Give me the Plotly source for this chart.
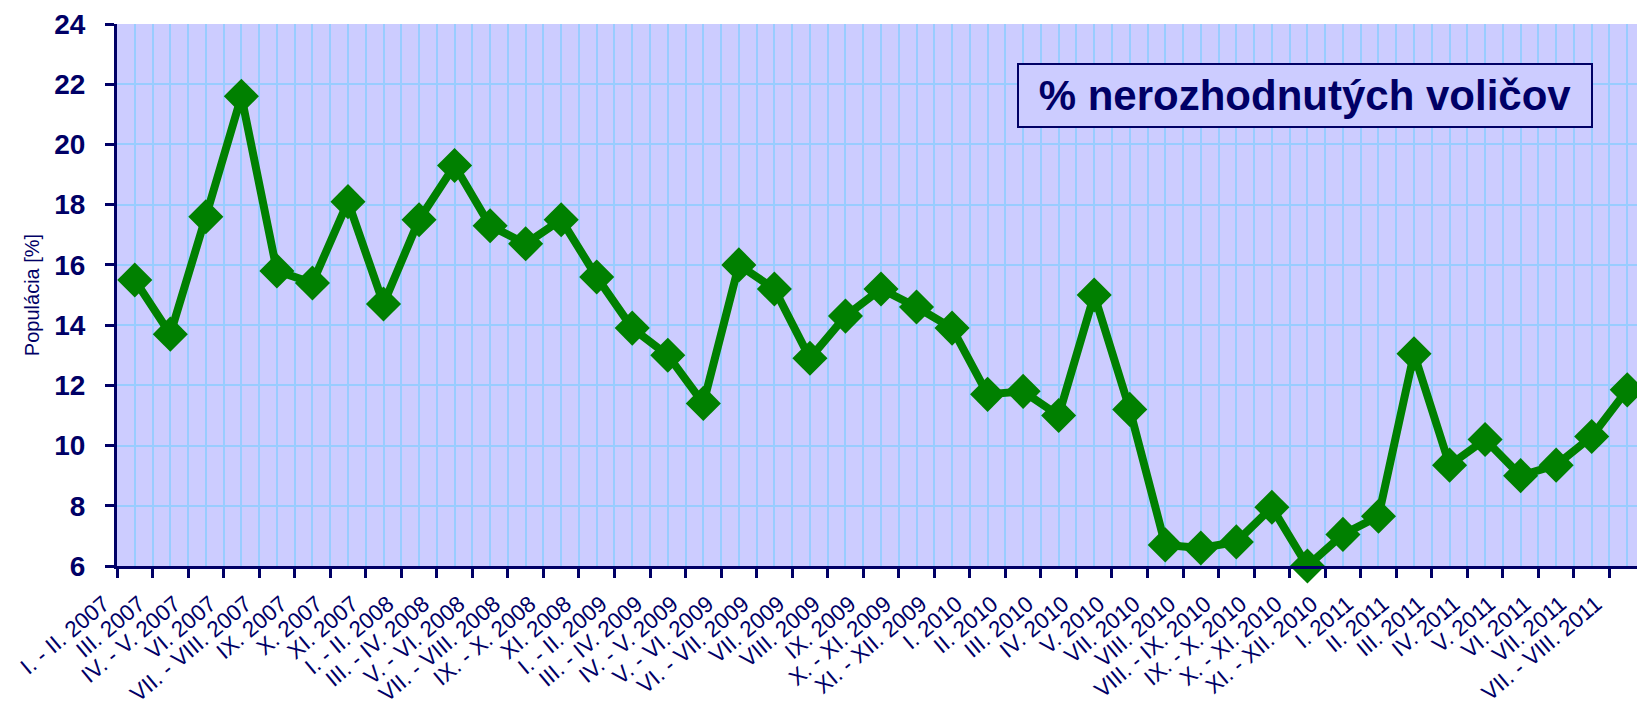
import plotly.graph_objects as go

categories = [
    "I. - II. 2007", "III. 2007", "IV. - V. 2007", "VI. 2007", "VII. - VIII. 2007",
    "IX. 2007", "X. 2007", "XI. 2007", "I. - II. 2008", "III. - IV. 2008",
    "V. - VI. 2008", "VII. - VIII. 2008", "IX. - X. 2008", "XI. 2008", "I. - II. 2009",
    "III. - IV. 2009", "IV. - V. 2009", "V. - VI. 2009", "VI. - VII. 2009", "VII. 2009",
    "VIII. 2009", "IX. 2009", "X. - XI. 2009", "XI. - XII. 2009", "I. 2010",
    "II. 2010", "III. 2010", "IV. 2010", "V. 2010", "VII. 2010",
    "VIII. 2010", "VIII. - IX. 2010", "IX. - X. 2010", "X. - XI. 2010", "XI. - XII. 2010",
    "I. 2011", "II. 2011", "III. 2011", "IV. 2011", "V. 2011",
    "VI. 2011", "VII. 2011", "VII. - VIII. 2011",
]

undecided = [
    15.5, 13.7, 17.6, 21.6, 15.8, 15.4, 18.1, 14.7, 17.5, 19.3,
    17.3, 16.7, 17.5, 15.6, 13.9, 13.0, 11.4, 16.0, 15.2, 12.9,
    14.3, 15.2, 14.6, 13.9, 11.7, 11.8, 11.0, 15.0, 11.2, 6.7,
    6.6, 6.8, 7.95, 6.0, 7.05, 7.65, 13.05, 9.35, 10.2, 9.0,
    9.35, 10.3, 11.85,
]

y_ticks = [6, 8, 10, 12, 14, 16, 18, 20, 22, 24]

chart_title = "% nerozhodnutých voličov"
y_title = "Populácia [%]"

NAVY = "#000066"
GRID = "#99CCFF"
PLOT_BG = "#CCCCFF"
FONT = "Liberation Sans, Arial, sans-serif"

n = len(categories)
xs = list(range(n))
boundaries = [i - 0.5 for i in range(n + 1)]

fig = go.Figure()
fig.add_trace(go.Scatter(
    x=xs, y=undecided, mode="lines+markers",
    line=dict(color="#008000", width=8),
    marker=dict(symbol="diamond", size=27, color="#008000"),
    cliponaxis=False, showlegend=False,
))

fig.update_layout(
    width=1637, height=700,
    margin=dict(l=109, r=0, t=16, b=142),
    paper_bgcolor="#FFFFFF",
    plot_bgcolor=PLOT_BG,
    font=dict(family=FONT, color=NAVY),
    xaxis=dict(
        range=[-0.5, n - 0.5], automargin=False,
        tickmode="array", tickvals=xs, ticktext=categories,
        tickangle=-40, ticks="",
        ticklabelstandoff=13, ticklabelshift=-31,
        tickfont=dict(family=FONT, size=22.5, color=NAVY),
        showgrid=True, gridcolor=GRID, gridwidth=2,
        showline=True, linecolor=NAVY, linewidth=3,
        zeroline=False,
        minor=dict(tickmode="array", tickvals=boundaries, ticks="outside",
                   ticklen=9, tickwidth=3, tickcolor=NAVY,
                   showgrid=True, gridcolor=GRID, gridwidth=2),
    ),
    yaxis=dict(
        range=[6, 24], automargin=False,
        tickmode="array", tickvals=y_ticks,
        ticks="outside", ticklen=9, tickwidth=3, tickcolor=NAVY,
        tickfont=dict(family=FONT, size=28, color=NAVY, weight="bold"),
        ticklabelstandoff=14,
        showgrid=True, gridcolor=GRID, gridwidth=2,
        showline=True, linecolor=NAVY, linewidth=3,
        zeroline=False,
        title=dict(text=y_title, font=dict(family=FONT, size=20, color=NAVY), standoff=10),
    ),
    annotations=[dict(
        text="<b>" + chart_title + "</b>",
        xref="paper", yref="paper", x=0.7775, y=0.869,
        xanchor="center", yanchor="middle", showarrow=False,
        font=dict(family=FONT, size=42, color=NAVY),
        width=572, height=61, align="center", valign="middle",
        bgcolor=PLOT_BG, bordercolor=NAVY, borderwidth=2, borderpad=0,
    )],
)

fig.write_html("out.html")
